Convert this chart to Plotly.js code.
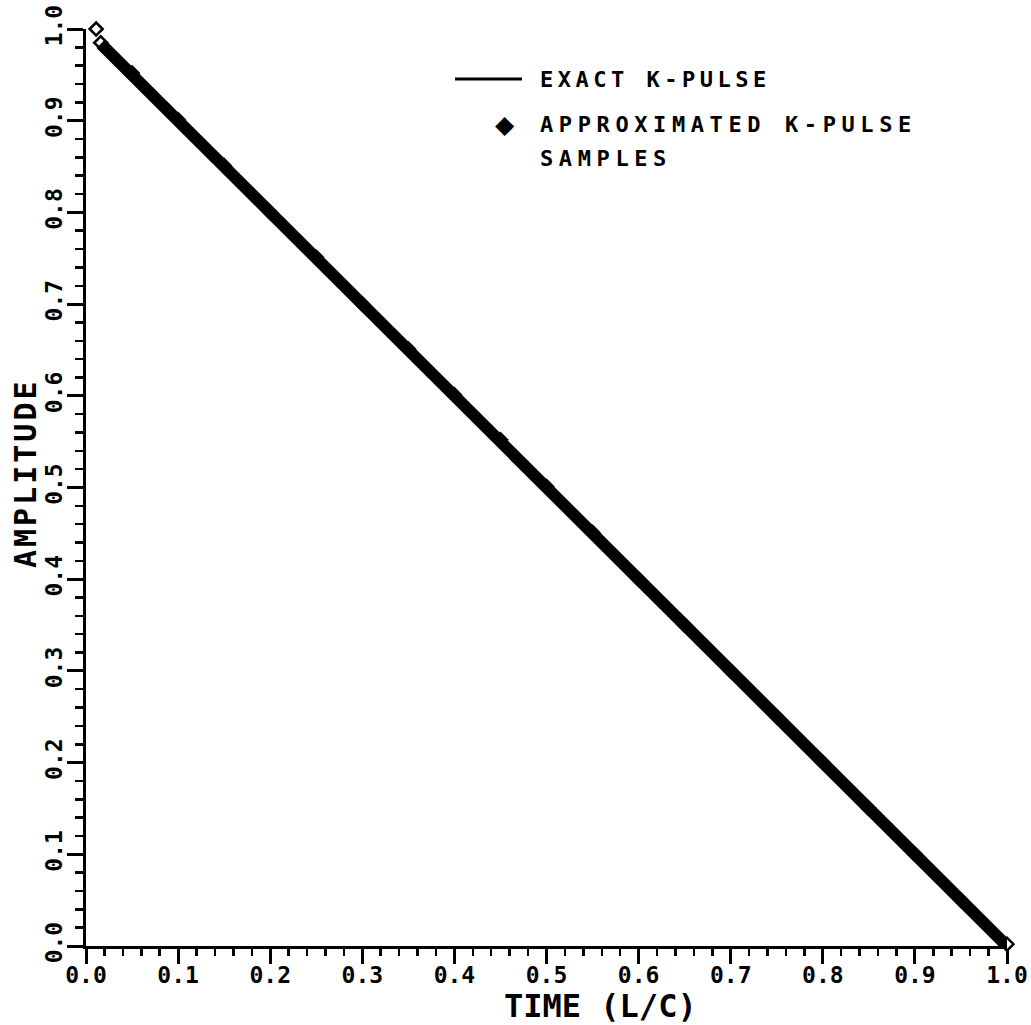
<!DOCTYPE html>
<html>
<head>
<meta charset="utf-8">
<script src="https://cdn.plot.ly/plotly-3.0.1.min.js"></script>
<style>
  html, body { margin: 0; padding: 0; background: #fff; }
  #chart { width: 1031px; height: 1025px; }
</style>
</head>
<body>
<div id="chart"></div>
<script>
// Exact K-pulse: linear ramp falling from 1 to 0 over one transit time L/C
const exactTime = [0.016, 1.0];
const exactAmp = [0.984, 0.0];

// Approximated K-pulse samples
const sampleTime = [0.011, 0.016, 0.05, 0.10, 0.15, 0.20, 0.25, 0.30, 0.35, 0.40, 0.45,
                    0.50, 0.55, 0.60, 0.65, 0.70, 0.75, 0.80, 0.85, 0.90, 0.95, 1.0];
const sampleAmp = [1.0, 0.985, 0.952, 0.901, 0.851, 0.800, 0.751, 0.700, 0.651, 0.601, 0.552,
                   0.501, 0.451, 0.400, 0.350, 0.300, 0.250, 0.200, 0.150, 0.100, 0.050, 0.002];

// Axis tick labels
const xTicks = [0, 0.1, 0.2, 0.3, 0.4, 0.5, 0.6, 0.7, 0.8, 0.9, 1.0];
const xTickText = ['0.0', '0.1', '0.2', '0.3', '0.4', '0.5', '0.6', '0.7', '0.8', '0.9', '1.0'];
const yTicks = xTicks;
const yTickText = xTickText;

// Axis titles and legend entries
const xTitle = 'TIME (L/C)';
const yTitle = 'AMPLITUDE';
const legendLine = 'EXACT K-PULSE';
const legendSamples = ['APPROXIMATED K-PULSE', 'SAMPLES'];

const FONT = '"DejaVu Sans Mono", monospace';
const W = 1031, H = 1025;
const M = { l: 86, r: 24, t: 29, b: 79 };
const PW = W - M.l - M.r, PH = H - M.t - M.b;
const px = x => (x - M.l) / PW;
const py = y => (H - M.b - y) / PH;
const spaced = (s, sp) => '<span style="letter-spacing:' + sp + 'px">' + s + '</span>';

const traces = [
  {
    type: 'scatter', mode: 'markers',
    x: sampleTime, y: sampleAmp,
    cliponaxis: false,
    marker: { symbol: 'diamond', size: 10, color: '#fff', line: { color: '#000', width: 2.5 } },
    hoverinfo: 'skip', showlegend: false
  },
  {
    type: 'scatter', mode: 'lines',
    x: exactTime, y: exactAmp,
    cliponaxis: false,
    line: { color: '#000', width: 12 },
    hoverinfo: 'skip', showlegend: false
  }
];

const axisCommon = {
  range: [0, 1],
  showgrid: false, zeroline: false,
  showline: true, linecolor: '#000', linewidth: 3,
  ticks: 'outside', tickcolor: '#000', tickwidth: 3,
  tickmode: 'array',
  tickfont: { family: FONT, size: 23, color: '#000', weight: 'bold' },
  minor: { dtick: 0.02, ticks: 'outside', ticklen: 7, tickwidth: 2.5, tickcolor: '#000' },
  fixedrange: true
};

const titleFont = { family: FONT, size: 30, color: '#000', weight: 'bold' };
const legendFont = { family: FONT, size: 22, color: '#000', weight: 'bold' };

const layout = {
  width: W, height: H,
  margin: M,
  paper_bgcolor: '#fff', plot_bgcolor: '#fff',
  showlegend: false,
  font: { family: FONT, color: '#000' },
  xaxis: Object.assign({}, axisCommon, {
    tickvals: xTicks, ticktext: xTickText,
    ticklen: 15, ticklabelstandoff: -9
  }),
  yaxis: Object.assign({}, axisCommon, {
    tickvals: yTicks, ticktext: yTickText,
    ticklen: 16, tickangle: -90, ticklabelstandoff: -4,
    minor: Object.assign({}, axisCommon.minor, { ticklen: 8 })
  }),
  shapes: [
    { type: 'line', xref: 'paper', yref: 'paper',
      x0: px(455), x1: px(522), y0: py(79), y1: py(79),
      line: { color: '#000', width: 3 } }
  ],
  annotations: [
    { xref: 'paper', yref: 'paper', x: px(600), y: py(1006), xanchor: 'center', yanchor: 'middle',
      text: xTitle, showarrow: false,
      font: { family: FONT, size: 32, color: '#000', weight: 'bold' } },
    { xref: 'paper', yref: 'paper', x: px(25), y: py(473), xanchor: 'center', yanchor: 'middle',
      text: spaced(yTitle, 3), textangle: -90, showarrow: false, font: titleFont },
    { xref: 'paper', yref: 'paper', x: px(538), y: py(80), xanchor: 'left', yanchor: 'middle',
      text: spaced(legendLine, 4.5), showarrow: false, font: legendFont },
    { xref: 'paper', yref: 'paper', x: px(505), y: py(124), xanchor: 'center', yanchor: 'middle',
      text: '◆', showarrow: false,
      font: { family: '"DejaVu Sans", sans-serif', size: 25, color: '#000' } },
    { xref: 'paper', yref: 'paper', x: px(538), y: py(124), xanchor: 'left', yanchor: 'middle',
      text: spaced(legendSamples[0], 5.6), showarrow: false, font: legendFont },
    { xref: 'paper', yref: 'paper', x: px(538), y: py(159), xanchor: 'left', yanchor: 'middle',
      text: spaced(legendSamples[1], 5.6), showarrow: false, font: legendFont }
  ]
};

Plotly.newPlot('chart', traces, layout, { displayModeBar: false, staticPlot: true });
</script>
</body>
</html>
